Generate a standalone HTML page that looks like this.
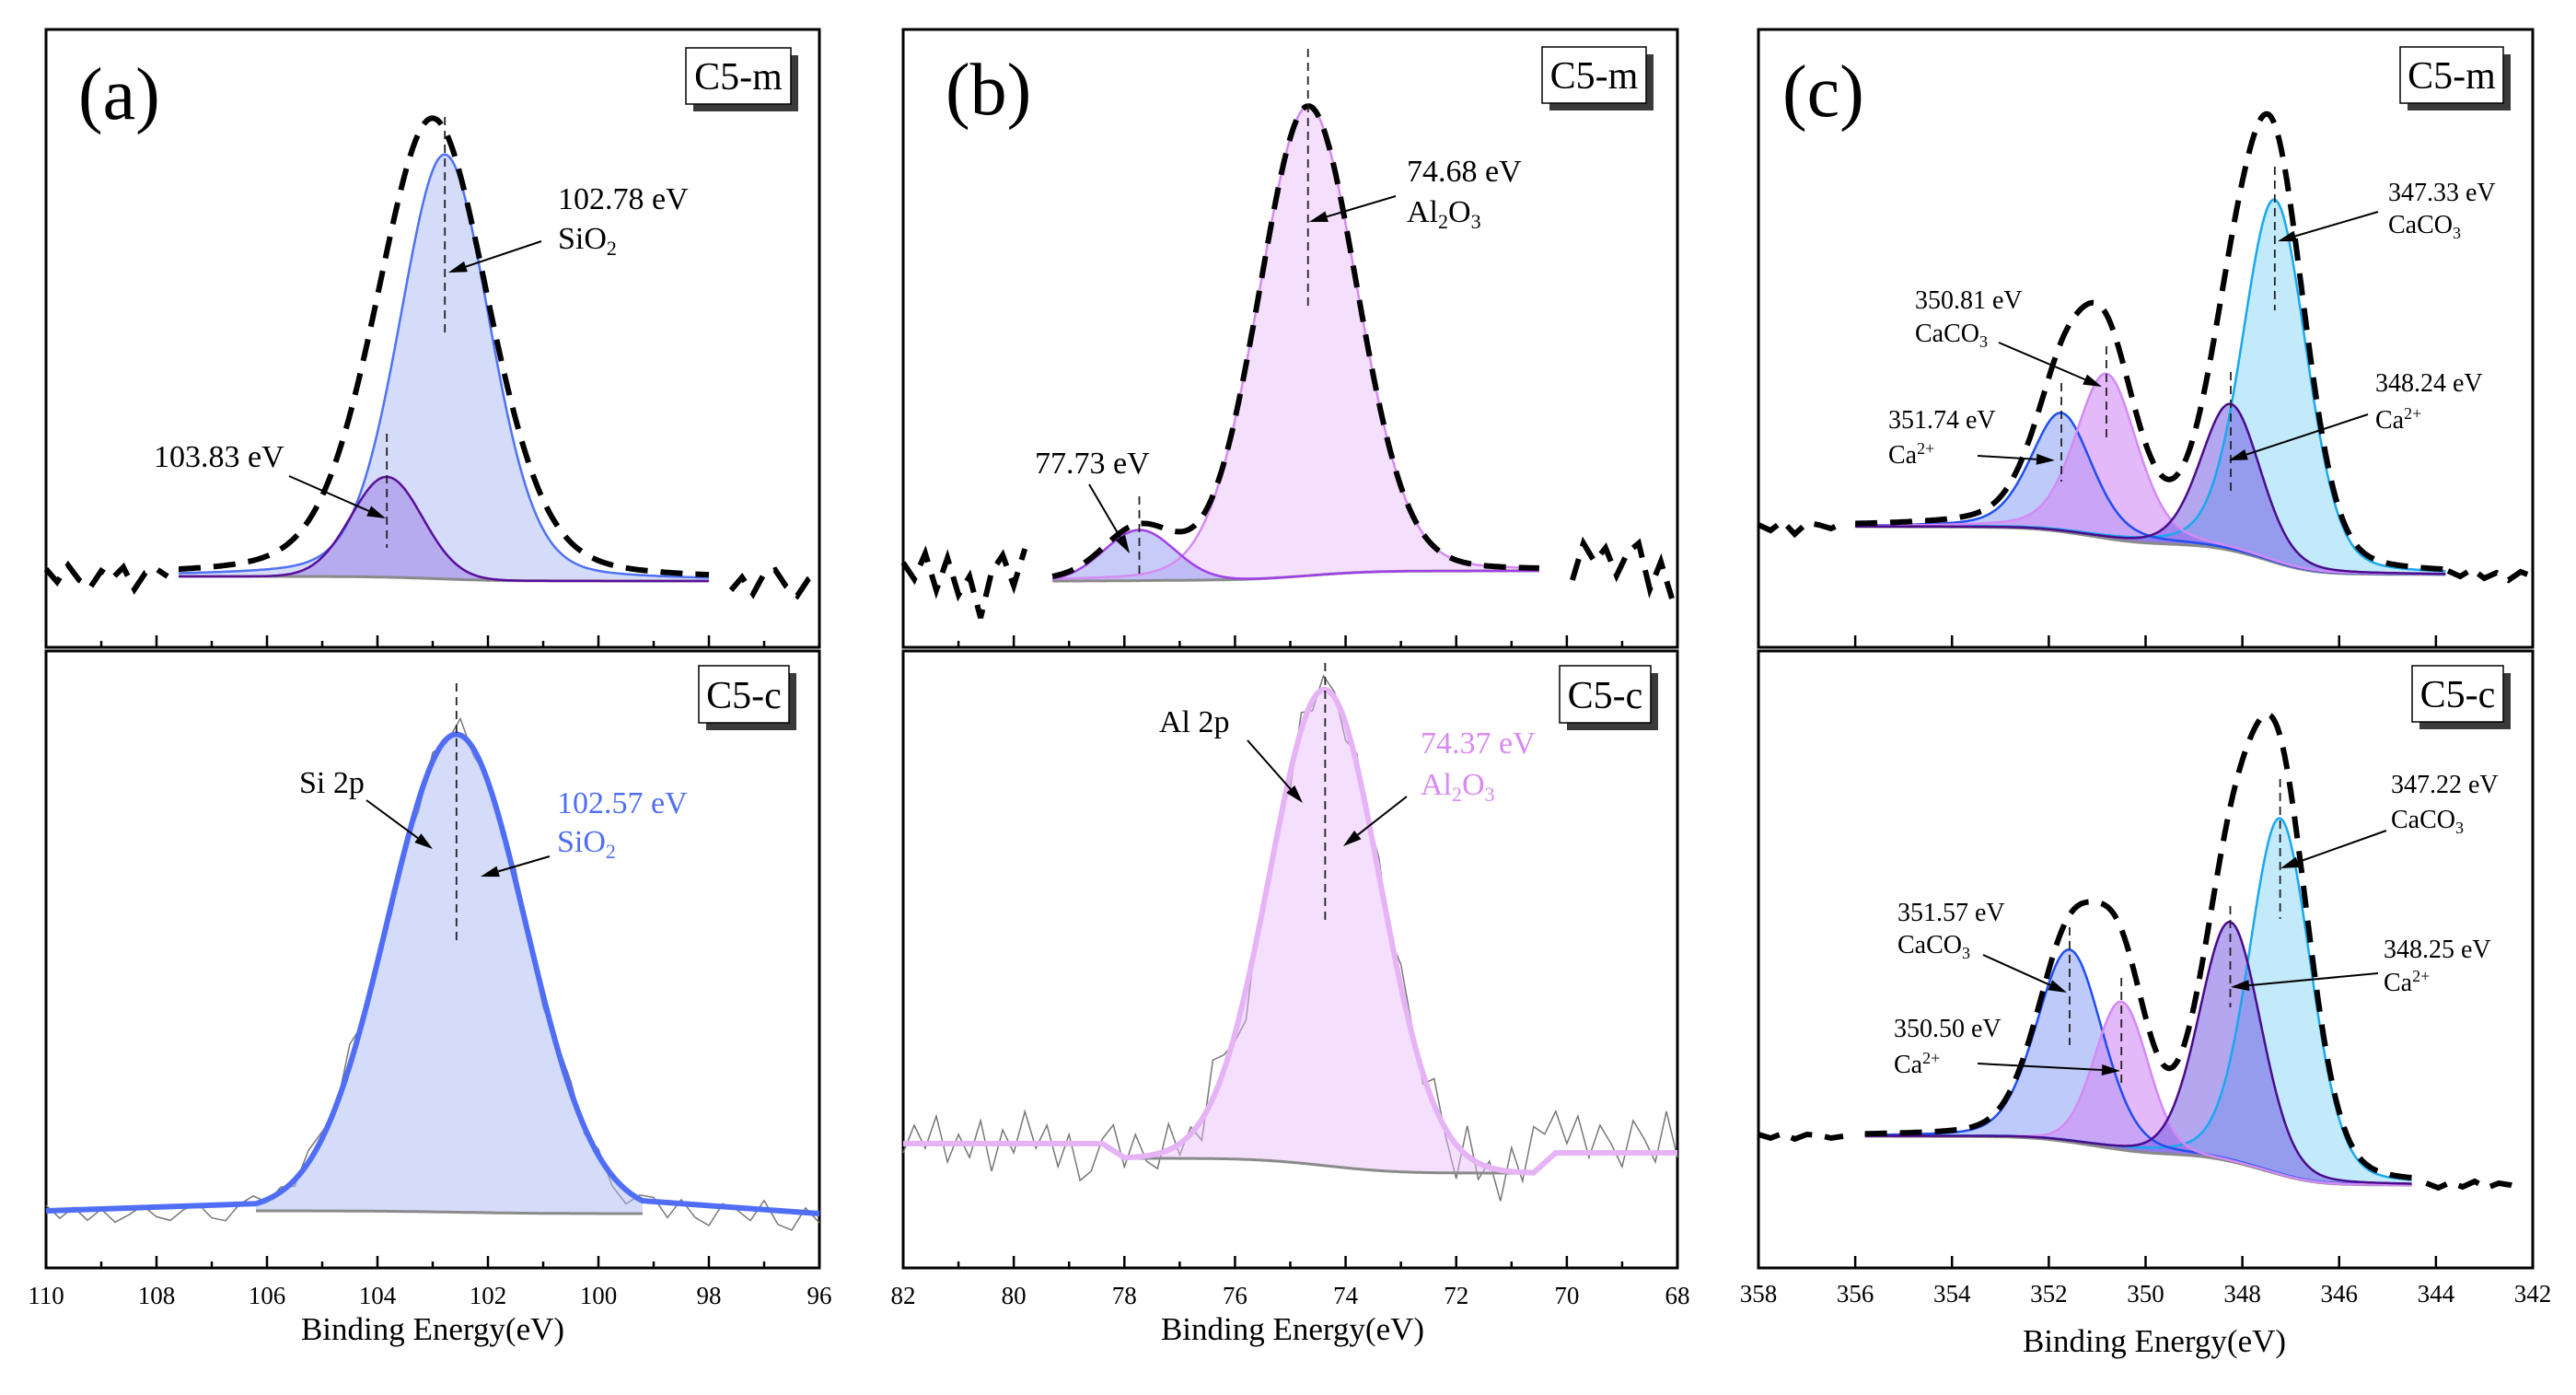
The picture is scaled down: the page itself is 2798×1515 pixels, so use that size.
<!DOCTYPE html>
<html><head><meta charset="utf-8">
<style>
html,body{margin:0;padding:0;background:#fff;}
svg{display:block;}
text{font-family:"Liberation Serif","Times New Roman",serif;}
</style></head>
<body>
<svg id="fig" width="2798" height="1515" viewBox="0 0 2798 1515" xmlns="http://www.w3.org/2000/svg"></svg>
<script>
// ---------------- DATA ----------------
// Panel (a) Si 2p, C5-m
const aTopCenters = [102.78, 103.83];
const aTopHeights = [461, 109];
const aTopWidths = [1.93, 1.52];
const aTopEnvelope = [103.0, 500, 2.4];      // center, height, fwhm of measured envelope
const aTopBaseline = [14, 9];                // left, right
const aTopNoiseL = [8,-6,12,-4,-12,6,-2,10,-14,4,8,0];
const aTopNoiseR = [-10,4,-14,8,12,-6,-16,2,10];
// Panel (a) C5-c
const aBotCenters = [102.57];
const aBotHeights = [519];
const aBotWidths = [2.95];
const aBotBaseline = [15, 12];
const aBotRawNoise = [6,-8,4,-10,2,-12,-4,6,-6,-10,2,8,-8,-12,4,10,-2,6,-6,14,8,-4,24,-6,8,-10,4,-12,10,-4,18,-8,6,-10,12,-6,-14,4,10,-8,6,-12,-16,4,8,-10,12,-6,-14,10,4,-8,14,-12,-18,6,-10];
// Panel (b) Al 2p, C5-m
const bTopCenters = [74.68, 77.73];
const bTopHeights = [510, 55];
const bTopWidths = [2.1, 1.5];
const bTopBaseline = [9, 20];
const bTopNoiseL = [20,2,30,-10,25,-15,5,-40,10,28,-5,35];
const bTopNoiseR = [-10,30,10,25,-5,20,30,-20,10,-30];
// Panel (b) C5-c
const bBotCenters = [74.37];
const bBotHeights = [517];
const bBotWidths = [2.35];
const bBotBaseline = [32, 16];
const bBotEdges = [48, 38];
const bBotRawNoise = [-10,20,-5,30,-20,10,-15,25,-30,15,-10,35,-5,20,-25,10,-40,-30,5,20,-10,25,-5,-15,30,-10,10,-20,45,20,-5,-30,15,5,10,-15,20,-10,15,5,-20,10,-5,15,-10,20,5,-15,25,-10,-40,30,-20,5,-35,25,-10,50,20,45,10,40,-5,30,10,-15,35,15,-10,45,-5];
// Panel (c) Ca 2p, C5-m
const cTopCenters = [351.74, 350.81, 348.24, 347.33];
const cTopHeights = [129, 179, 159, 394];
const cTopWidths = [1.5, 1.5, 1.45, 1.55];
const cTopBaseline = [68, 16];
const cTopNoiseL = [2,-4,6,-8,4,2,-2,4];
const cTopNoiseR = [4,-2,6,-4,2,-6,3,-2];
// Panel (c) C5-c
const cBotCenters = [351.57, 350.50, 348.25, 347.22];
const cBotHeights = [209, 161, 260, 387];
const cBotWidths = [1.6, 1.3, 1.5, 1.5];
const cBotBaseline = [66, 13];
const cBotNoiseL = [2,-2,3,-3,2,1,-2,0];
const cBotNoiseR = [2,-3,3,-2,4,-3,2,0,-4];
// tick labels
const aTicks = [110,108,106,104,102,100,98,96];
const bTicks = [82,80,78,76,74,72,70,68];
const cTicks = [358,356,354,352,350,348,346,344,342];

// ---------------- HELPERS ----------------
const NS = "http://www.w3.org/2000/svg";
const svg = document.getElementById('fig');
function mk(tag, attrs, parent){
  const e = document.createElementNS(NS, tag);
  for (const k in attrs) e.setAttribute(k, attrs[k]);
  (parent||svg).appendChild(e);
  return e;
}
function pv(x,c,h,w,eta){
  const d=(x-c)/w;
  return h*((1-eta)*Math.exp(-4*Math.LN2*d*d)+eta/(1+4*d*d));
}
function mkScale(xmax,xmin,x0,x1,yZero){
  return {X:v=>x0+(xmax-v)/(xmax-xmin)*(x1-x0), Y:i=>yZero-i};
}
function grid(hi,lo,step){const g=[];for(let x=hi;x>=lo-1e-9;x-=step)g.push(+x.toFixed(4));return g;}
function shirley(xs,comps,bl){
  const tot=xs.map((x,i)=>comps.reduce((s,c)=>s+c[i],0));
  const cum=[];let s=0;
  for(let i=xs.length-1;i>=0;i--){s+=tot[i];cum[i]=s;}
  const T=cum[0]||1;
  return xs.map((x,i)=>bl[1]+(bl[0]-bl[1])*cum[i]/T);
}
function pathFrom(pts){return pts.map((p,i)=>(i?'L':'M')+p[0].toFixed(1)+','+p[1].toFixed(1)).join(' ');}
function frame(x0,y0,x1,y1,name){
  const r=mk('rect',{x:x0,y:y0,width:x1-x0,height:y1-y0,fill:'none',stroke:'#000','stroke-width':3});
  
  
}
function ticks(sc,hi,lo,minor,yb,name){
  const g=mk('g',{});
  
  
  for(let v=hi;v>=lo;v-=1){
    const major=((hi-v)%2===0);
    if(!major&&!minor)continue;
    const x=sc.X(v);
    mk('line',{x1:x,x2:x,y1:yb,y2:yb-(major?13:7),stroke:'#000','stroke-width':2.5},g);
  }
}
function tickLabels(sc,arr,y,name){
  const g=mk('g',{});
  
  
  arr.forEach(v=>{
    const t=mk('text',{x:sc.X(v),y:y,'text-anchor':'middle','font-size':27},g);
    t.textContent=v;
  });
}
function label(x,y,txt,size,name,color,anchor){
  const t=mk('text',{x:x,y:y,'font-size':size,fill:color||'#000','text-anchor':anchor||'start'});
  
  
  t.innerHTML=txt;
  return t;
}
function arrow(x1,y1,x2,y2,name){
  const g=mk('g',{});
  
  
  const a=Math.atan2(y2-y1,x2-x1),L=20,W=6;
  const bx=x2-L*Math.cos(a),by=y2-L*Math.sin(a);
  mk('line',{x1:x1,y1:y1,x2:bx,y2:by,stroke:'#000','stroke-width':2},g);
  mk('polygon',{points:`${x2},${y2} ${bx-W*Math.sin(a)},${by+W*Math.cos(a)} ${bx+W*Math.sin(a)},${by-W*Math.cos(a)}`,fill:'#000'},g);
}
function vmark(x,y1,y2,name){
  const l=mk('line',{x1:x,x2:x,y1:y1,y2:y2,stroke:'#222','stroke-width':1.8,'stroke-dasharray':'9 6'});
  
  
}
function sampleBox(x0,y0,x1,y1,txt,name){
  const g=mk('g',{});
  
  
  mk('rect',{x:x0+8,y:y0+8,width:x1-x0,height:y1-y0,fill:'#3a3a3a'},g);
  mk('rect',{x:x0,y:y0,width:x1-x0,height:y1-y0,fill:'#fff',stroke:'#000','stroke-width':1.5},g);
  const t=mk('text',{x:(x0+x1)/2,y:y1-16,'text-anchor':'middle','font-size':42},g);
  t.textContent=txt;
}
function drawFit(sc,hi,lo,centers,heights,widths,etas,bl,styles,order,prefix){
  const xs=grid(hi,lo,0.02);
  const comps=centers.map((c,k)=>xs.map(x=>pv(x,c,heights[k],widths[k],etas[k])));
  const base=shirley(xs,comps,bl);
  order.forEach(k=>{
    const top=xs.map((x,i)=>[sc.X(x),sc.Y(base[i]+comps[k][i])]);
    const bot=xs.map((x,i)=>[sc.X(x),sc.Y(base[i])]).reverse();
    const f=mk('path',{d:pathFrom(top.concat(bot))+'Z',fill:styles[k][1],'fill-opacity':styles[k][2],stroke:'none'});
    
    
  });
  const bpath=mk('path',{d:pathFrom(xs.map((x,i)=>[sc.X(x),sc.Y(base[i])])),fill:'none',stroke:'#8a8a8a','stroke-width':3});
  
  
  order.forEach(k=>{
    const l=mk('path',{d:pathFrom(xs.map((x,i)=>[sc.X(x),sc.Y(base[i]+comps[k][i])])),fill:'none',stroke:styles[k][0],'stroke-width':styles[k][3]||2.5});
    
    
  });
  return {xs,comps,base};
}
function dashed(pts,name){
  const p=mk('path',{d:pathFrom(pts),fill:'none',stroke:'#000','stroke-width':6,'stroke-dasharray':'24 14'});
  
  
}
function noisePts(sc,start,step,arr,base){return arr.map((n,i)=>[sc.X(start-i*step),sc.Y(base+n)]);}

// ---------------- GEOMETRY ----------------
const TOP=32, MID=703, MID2=707, BOT=1377;
const PA=[50,890], PB=[981,1822], PC=[1910,2751];

// ===== Panel (a) =====
frame(PA[0],TOP,PA[1],MID,'panel-a-top-frame');
frame(PA[0],MID2,PA[1],BOT,'panel-a-bottom-frame');
const saT=mkScale(110,96,PA[0],PA[1],640);
const fa=drawFit(saT,107.6,98.0,aTopCenters,aTopHeights,aTopWidths,[0.2,0],aTopBaseline,
  [['#4f72f5','#a9b9f5',0.5],['#5a0f9a','#7a50d8',0.35]],[0,1],'a-top');
dashed(fa.xs.map((x,i)=>[saT.X(x),saT.Y(fa.base[i]+pv(x,aTopEnvelope[0],aTopEnvelope[1],aTopEnvelope[2],0.25))]),'a-top-envelope');
dashed(noisePts(saT,110,0.2,aTopNoiseL,aTopBaseline[0]),'a-top-noise-left');
dashed(noisePts(saT,97.6,0.2,aTopNoiseR,aTopBaseline[1]),'a-top-noise-right');
ticks(saT,110,96,true,MID,'a-top-ticks');
label(85,129,'(a)',80,'panel-a-letter');
sampleBox(745,52,859,113,'C5-m','a-top-sample-label');
vmark(saT.X(aTopCenters[0]),127,362,'a-peak1-marker');
vmark(saT.X(aTopCenters[1]),471,595,'a-peak2-marker');
label(606,227,'102.78 eV',34,'a-peak1-label');
label(606,270,'SiO<tspan font-size="22" dy="7">2</tspan>',34,'a-peak1-species');
arrow(588,262,487,296,'a-peak1-arrow');
label(167,507,'103.83 eV',34,'a-peak2-label');
arrow(314,517,419,563,'a-peak2-arrow');

const saB=mkScale(110,96,PA[0],PA[1],1330);
{
  const xs=grid(110,96,0.25);
  const raw=xs.map((x,i)=>[saB.X(x),saB.Y(aBotBaseline[0]+(aBotBaseline[1]-aBotBaseline[0])*(110-x)/14+pv(x,aBotCenters[0],aBotHeights[0],aBotWidths[0],0)+aBotRawNoise[i])]);
  const r=mk('path',{d:pathFrom(raw),fill:'none',stroke:'#777','stroke-width':1.5});
  
  
}
const fb=drawFit(saB,106.2,99.2,aBotCenters,aBotHeights,aBotWidths,[0],aBotBaseline,[['#4f72f5','#a9b9f5',0.5,1]],[0],'a-bottom');
{
  const pts=[[saB.X(110),saB.Y(aBotBaseline[0])]].concat(fb.xs.map((x,i)=>[saB.X(x),saB.Y(fb.base[i]+fb.comps[0][i])]),[[saB.X(96),saB.Y(aBotBaseline[1])]]);
  const p=mk('path',{d:pathFrom(pts),fill:'none',stroke:'#4f6ef5','stroke-width':6});
  
  
}
ticks(saB,110,96,true,BOT,'a-bottom-ticks');
tickLabels(saB,aTicks,1416,'a-x-tick-labels');
label(470,1455,'Binding Energy(eV)',35,'a-x-axis-title','#000','middle');
sampleBox(759,723,857,785,'C5-c','a-bottom-sample-label');
vmark(saB.X(aBotCenters[0]),742,1024,'a-bottom-peak-marker');
label(325,861,'Si 2p',34,'a-si2p-label');
arrow(398,869,470,922,'a-si2p-arrow');
label(605,883,'102.57 eV',34,'a-bottom-peak-label','#4f6ef5');
label(605,925,'SiO<tspan font-size="22" dy="7">2</tspan>',34,'a-bottom-peak-species','#4f6ef5');
arrow(597,930,522,952,'a-bottom-peak-arrow');

// ===== Panel (b) =====
frame(PB[0],TOP,PB[1],MID,'panel-b-top-frame');
frame(PB[0],MID2,PB[1],BOT,'panel-b-bottom-frame');
const sbT=mkScale(82,68,PB[0],PB[1],640);
const fbT=drawFit(sbT,79.3,70.5,bTopCenters,bTopHeights,bTopWidths,[0.1,0],bTopBaseline,
  [['#d48cf2','#e6b8f8',0.45],['#a040e8','#8d98f2',0.5]],[0,1],'b-top');
dashed(fbT.xs.map((x,i)=>[sbT.X(x),sbT.Y(fbT.base[i]+fbT.comps[0][i]+fbT.comps[1][i])]),'b-top-envelope');
dashed(noisePts(sbT,82,0.2,bTopNoiseL,bTopBaseline[0]),'b-top-noise-left');
dashed(noisePts(sbT,69.9,0.2,bTopNoiseR,bTopBaseline[1]),'b-top-noise-right');
ticks(sbT,82,68,true,MID,'b-top-ticks');
label(1027,124,'(b)',80,'panel-b-letter');
sampleBox(1675,51,1788,112,'C5-m','b-top-sample-label');
vmark(sbT.X(bTopCenters[0]),53,337,'b-peak1-marker');
vmark(sbT.X(bTopCenters[1]),539,624,'b-peak2-marker');
label(1528,197,'74.68 eV',34,'b-peak1-label');
label(1528,241,'Al<tspan font-size="22" dy="7">2</tspan><tspan dy="-7">O</tspan><tspan font-size="22" dy="7">3</tspan>',34,'b-peak1-species');
arrow(1516,213,1422,241,'b-peak1-arrow');
label(1124,514,'77.73 eV',34,'b-peak2-label');
arrow(1183,526,1227,601,'b-peak2-arrow');

const sbB=mkScale(82,68,PB[0],PB[1],1290);
{
  const xs=grid(82,68,0.2);
  const raw=xs.map((x,i)=>{
    const bl=x>78?bBotEdges[0]:(x<70.6?bBotEdges[1]:bBotBaseline[0]+(bBotBaseline[1]-bBotBaseline[0])*(78-x)/7.4);
    return [sbB.X(x),sbB.Y(bl+pv(x,bBotCenters[0],bBotHeights[0],bBotWidths[0],0)+bBotRawNoise[i])];
  });
  const r=mk('path',{d:pathFrom(raw),fill:'none',stroke:'#777','stroke-width':1.5});
  
  
}
const fbB=drawFit(sbB,78.0,70.6,bBotCenters,bBotHeights,bBotWidths,[0],bBotBaseline,[['#e3aef6','#e6b8f8',0.45,1]],[0],'b-bottom');
{
  const pts=[[sbB.X(82),sbB.Y(bBotEdges[0])],[sbB.X(78.4),sbB.Y(bBotEdges[0])]].concat(fbB.xs.map((x,i)=>[sbB.X(x),sbB.Y(fbB.base[i]+fbB.comps[0][i])]),[[sbB.X(70.2),sbB.Y(bBotEdges[1])],[sbB.X(68),sbB.Y(bBotEdges[1])]]);
  const p=mk('path',{d:pathFrom(pts),fill:'none',stroke:'#e6b3f6','stroke-width':6});
  
  
}
ticks(sbB,82,68,true,BOT,'b-bottom-ticks');
tickLabels(sbB,bTicks,1416,'b-x-tick-labels');
label(1404,1455,'Binding Energy(eV)',35,'b-x-axis-title','#000','middle');
sampleBox(1694,723,1793,785,'C5-c','b-bottom-sample-label');
vmark(sbB.X(bBotCenters[0]),720,1004,'b-bottom-peak-marker');
label(1259,795,'Al 2p',34,'b-al2p-label');
arrow(1355,804,1415,872,'b-al2p-arrow');
label(1543,818,'74.37 eV',34,'b-bottom-peak-label','#d98af2');
label(1543,863,'Al<tspan font-size="22" dy="7">2</tspan><tspan dy="-7">O</tspan><tspan font-size="22" dy="7">3</tspan>',34,'b-bottom-peak-species','#d98af2');
arrow(1528,865,1459,919,'b-bottom-peak-arrow');

// ===== Panel (c) =====
frame(PC[0],TOP,PC[1],MID,'panel-c-top-frame');
frame(PC[0],MID2,PC[1],BOT,'panel-c-bottom-frame');
const cStyles=[['#1f4ff0','#7d97f5',0.5],['#d38af5','#d08af5',0.6],['#4a0c8c','#6a4ee0',0.5],['#19a8ee','#8fd8f8',0.55]];
const scT=mkScale(358,342,PC[0],PC[1],640);
const fcT=drawFit(scT,356.0,343.8,cTopCenters,cTopHeights,cTopWidths,[0.35,0.3,0.2,0.2],cTopBaseline,cStyles,[3,0,1,2],'c-top');
dashed(fcT.xs.map((x,i)=>[scT.X(x),scT.Y(fcT.base[i]+1.05*fcT.comps.reduce((s,c)=>s+c[i],0))]),'c-top-envelope');
dashed(noisePts(scT,358,0.25,cTopNoiseL,cTopBaseline[0]),'c-top-noise-left');
dashed(noisePts(scT,343.75,0.25,cTopNoiseR,cTopBaseline[1]),'c-top-noise-right');
ticks(scT,358,342,false,MID,'c-top-ticks');
label(1936,126,'(c)',80,'panel-c-letter');
sampleBox(2607,51,2719,112,'C5-m','c-top-sample-label');
const sub3='CaCO<tspan font-size="18" dy="6">3</tspan>';
const sup2='Ca<tspan font-size="18" dy="-10">2+</tspan>';
vmark(scT.X(cTopCenters[3]),181,337,'c-top-peak4-marker');
vmark(scT.X(cTopCenters[1]),376,477,'c-top-peak2-marker');
vmark(scT.X(cTopCenters[0]),416,523,'c-top-peak1-marker');
vmark(scT.X(cTopCenters[2]),404,539,'c-top-peak3-marker');
label(2594,218,'347.33 eV',28,'c-top-peak4-label');
label(2594,253,sub3,28,'c-top-peak4-species');
arrow(2583,230,2474,262,'c-top-peak4-arrow');
label(2080,335,'350.81 eV',28,'c-top-peak2-label');
label(2080,371,sub3,28,'c-top-peak2-species');
arrow(2171,372,2283,420,'c-top-peak2-arrow');
label(2051,465,'351.74 eV',28,'c-top-peak1-label');
label(2051,503,sup2,28,'c-top-peak1-species');
arrow(2148,495,2232,500,'c-top-peak1-arrow');
label(2580,425,'348.24 eV',28,'c-top-peak3-label');
label(2580,465,sup2,28,'c-top-peak3-species');
arrow(2572,450,2421,500,'c-top-peak3-arrow');

const scB=mkScale(358,342,PC[0],PC[1],1300);
const fcB=drawFit(scB,355.8,344.5,cBotCenters,cBotHeights,cBotWidths,[0.2,0.1,0.15,0.2],cBotBaseline,cStyles,[3,0,1,2],'c-bottom');
dashed(fcB.xs.map((x,i)=>[scB.X(x),scB.Y(fcB.base[i]+1.03*fcB.comps.reduce((s,c)=>s+c[i],0))]),'c-bottom-envelope');
dashed(noisePts(scB,358,0.25,cBotNoiseL,cBotBaseline[0]),'c-bottom-noise-left');
dashed(noisePts(scB,344.2,0.25,cBotNoiseR,cBotBaseline[1]),'c-bottom-noise-right');
ticks(scB,358,342,false,BOT,'c-bottom-ticks');
tickLabels(scB,cTicks,1414,'c-x-tick-labels');
label(2340,1468,'Binding Energy(eV)',35,'c-x-axis-title','#000','middle');
sampleBox(2620,723,2719,784,'C5-c','c-bottom-sample-label');
vmark(scB.X(cBotCenters[3]),846,998,'c-bottom-peak4-marker');
vmark(scB.X(cBotCenters[0]),1007,1135,'c-bottom-peak1-marker');
vmark(scB.X(cBotCenters[1]),1062,1181,'c-bottom-peak2-marker');
vmark(scB.X(cBotCenters[2]),984,1094,'c-bottom-peak3-marker');
label(2597,861,'347.22 eV',28,'c-bottom-peak4-label');
label(2597,899,sub3,28,'c-bottom-peak4-species');
arrow(2592,902,2477,943,'c-bottom-peak4-arrow');
label(2061,1000,'351.57 eV',28,'c-bottom-peak1-label');
label(2061,1035,sub3,28,'c-bottom-peak1-species');
arrow(2154,1037,2245,1078,'c-bottom-peak1-arrow');
label(2057,1126,'350.50 eV',28,'c-bottom-peak2-label');
label(2057,1165,sup2,28,'c-bottom-peak2-species');
arrow(2148,1155,2303,1163,'c-bottom-peak2-arrow');
label(2589,1040,'348.25 eV',28,'c-bottom-peak3-label');
label(2589,1076,sup2,28,'c-bottom-peak3-species');
arrow(2583,1057,2423,1072,'c-bottom-peak3-arrow');
</script>
</body></html>
